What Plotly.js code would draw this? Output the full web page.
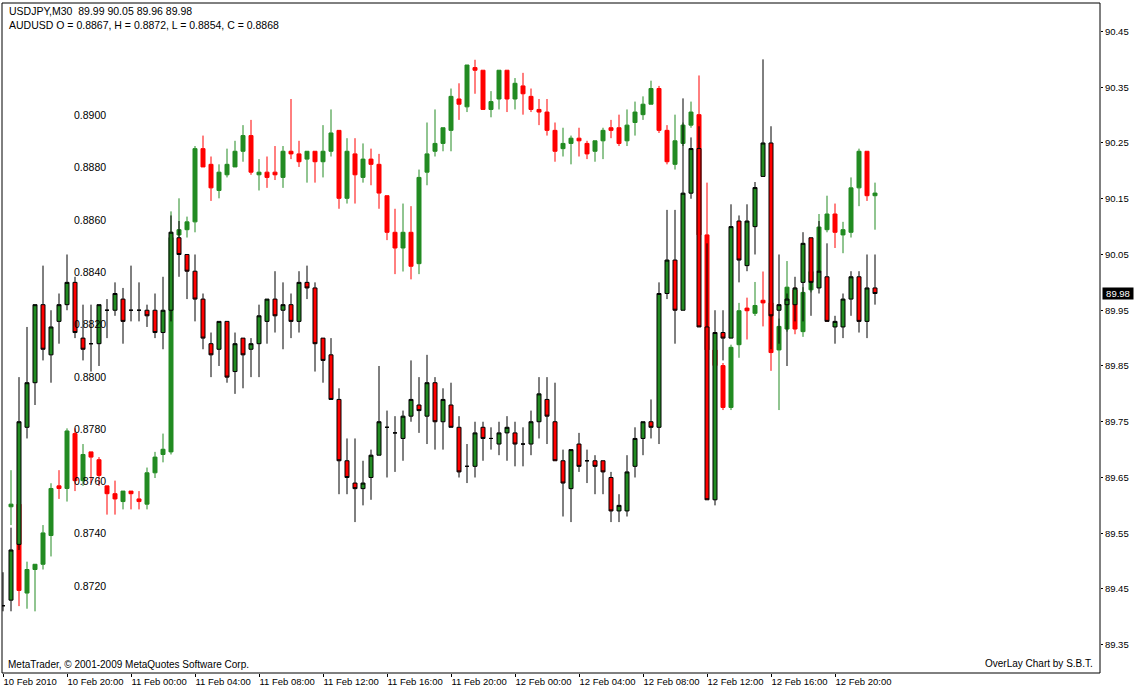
<!DOCTYPE html>
<html>
<head>
<meta charset="utf-8">
<script src="https://cdn.plot.ly/plotly-3.0.1.min.js"></script>
<style>
  html, body { margin: 0; padding: 0; background: #ffffff; }
  #chart { width: 1138px; height: 690px; }
</style>
</head>
<body>
<div id="chart"></div>
<script>
// ---- Data (30-minute bars, 10 Feb 2010 16:00 .. 12 Feb 2010 22:30) ----
var jpyOpen  = [89.42,89.43,89.53,89.74,89.82,89.96,89.87,89.93,89.96,90.00,89.90,89.89,89.89,89.95,89.95,89.97,89.95,89.95,89.95,89.95,
                89.91,89.95,90.08,90.05,90.02,89.97,89.89,89.88,89.93,89.84,89.90,89.88,89.89,89.93,89.97,89.95,89.96,89.93,90.00,89.99,
                89.90,89.87,89.79,89.68,89.64,89.63,89.65,89.69,89.74,89.73,89.72,89.76,89.78,89.76,89.82,89.75,89.78,89.74,89.67,89.67,
                89.74,89.72,89.71,89.73,89.73,89.71,89.71,89.75,89.79,89.75,89.68,89.63,89.71,89.68,89.68,89.68,89.65,89.59,89.59,89.67,
                89.72,89.75,89.74,89.98,90.04,89.95,90.16,90.24,89.92,89.61,89.91,89.90,90.11,90.03,90.10,90.19,90.25,89.95,89.96,89.96,
                90.00,90.08,89.99,90.01,89.92,89.92,89.97,90.01,89.93,89.99];
var jpyHigh  = [89.48,89.56,89.83,89.92,89.96,90.03,89.95,89.98,90.05,90.01,89.96,89.96,89.96,89.97,90.00,89.99,90.03,90.00,89.96,89.98,
                90.01,90.12,90.11,90.05,90.05,89.98,89.91,89.93,89.93,89.91,89.90,89.90,89.96,89.97,90.02,90.00,89.98,90.02,90.03,90.00,
                89.90,89.90,89.81,89.72,89.72,89.68,89.70,89.85,89.77,89.76,89.77,89.86,89.83,89.87,89.83,89.81,89.82,89.76,89.71,89.75,
                89.75,89.74,89.75,89.76,89.75,89.74,89.77,89.83,89.83,89.82,89.70,89.70,89.73,89.70,89.69,89.68,89.66,89.62,89.69,89.74,
                89.75,89.79,90.00,90.13,90.13,90.33,90.26,90.28,90.07,89.95,89.95,90.14,90.12,90.14,90.18,90.40,90.28,90.05,89.98,90.01,
                90.09,90.08,90.11,90.07,89.94,89.98,90.02,90.02,90.05,90.05];
var jpyLow   = [89.41,89.41,89.52,89.72,89.78,89.86,89.82,89.89,89.95,89.90,89.86,89.84,89.85,89.90,89.94,89.89,89.93,89.93,89.92,89.90,
                89.88,89.93,90.01,89.97,89.93,89.88,89.83,89.85,89.82,89.80,89.81,89.83,89.83,89.89,89.91,89.88,89.90,89.91,89.97,89.84,
                89.82,89.79,89.62,89.62,89.57,89.60,89.61,89.69,89.65,89.66,89.68,89.75,89.73,89.71,89.70,89.70,89.74,89.65,89.64,89.65,
                89.68,89.70,89.69,89.68,89.67,89.67,89.69,89.72,89.71,89.68,89.58,89.57,89.66,89.64,89.62,89.62,89.57,89.57,89.58,89.65,
                89.69,89.72,89.71,89.97,89.89,89.95,90.15,89.92,89.61,89.60,89.86,89.90,90.00,90.02,90.05,90.19,89.88,89.89,89.85,89.93,
                89.93,89.94,89.98,89.93,89.89,89.90,89.94,89.91,89.90,89.96];
var jpyClose = [89.42,89.52,89.75,89.82,89.96,89.88,89.92,89.96,90.00,89.91,89.88,89.89,89.96,89.95,89.98,89.93,89.95,89.95,89.94,89.91,
                89.95,90.09,90.05,90.02,89.97,89.90,89.87,89.93,89.83,89.89,89.87,89.89,89.94,89.97,89.94,89.96,89.93,90.00,89.99,89.89,
                89.86,89.79,89.68,89.65,89.63,89.64,89.69,89.75,89.74,89.73,89.76,89.79,89.77,89.82,89.75,89.79,89.74,89.66,89.67,89.73,
                89.72,89.72,89.73,89.74,89.71,89.71,89.75,89.80,89.76,89.68,89.64,89.70,89.67,89.68,89.67,89.66,89.59,89.60,89.66,89.72,
                89.75,89.74,89.98,90.04,89.95,90.16,90.24,89.92,89.61,89.91,89.90,90.10,90.04,90.11,90.17,90.25,89.94,89.96,89.97,89.99,
                90.07,90.00,90.02,89.93,89.93,89.97,90.01,89.93,89.99,89.98];

var audOpen  = [null,0.8748,0.8749,0.8715,0.8724,0.8726,0.8737,0.8756,0.8755,0.8776,0.8758,0.8769,0.8766,0.8756,0.8753,0.8750,0.8754,0.8751,0.8749,0.8761,
                0.8768,0.8769,0.8852,0.8854,0.8857,0.8885,0.8879,0.8869,0.8875,0.8878,0.8884,0.8890,0.8875,0.8876,0.8876,0.8874,0.8884,0.8883,0.8881,0.8884,
                0.8880,0.8884,0.8892,0.8866,0.8883,0.8874,0.8881,0.8879,0.8867,0.8853,0.8847,0.8853,0.8841,0.8876,0.8884,0.8887,0.8892,0.8904,0.8901,0.8916,
                0.8915,0.8900,0.8904,0.8915,0.8904,0.8909,0.8905,0.8900,0.8899,0.8892,0.8885,0.8887,0.8889,0.8887,0.8884,0.8888,0.8893,0.8893,0.8888,0.8895,
                0.8898,0.8902,0.8908,0.8892,0.8879,0.8887,0.8894,0.8898,0.8852,0.8808,0.8802,0.8786,0.8810,0.8824,0.8822,0.8827,0.8826,0.8808,0.8816,0.8831,
                0.8815,0.8831,0.8838,0.8854,0.8860,0.8852,0.8853,0.8870,0.8884,0.8867];
var audHigh  = [null,0.8762,0.8751,0.8727,0.8726,0.8741,0.8757,0.8762,0.8778,0.8778,0.8772,0.8769,0.8767,0.8756,0.8758,0.8754,0.8754,0.8754,0.8763,0.8769,
                0.8776,0.8861,0.8866,0.8859,0.8886,0.8890,0.8882,0.8879,0.8885,0.8888,0.8894,0.8896,0.8881,0.8882,0.8886,0.8886,0.8904,0.8888,0.8884,0.8884,
                0.8894,0.8900,0.8892,0.8889,0.8889,0.8887,0.8885,0.8883,0.8867,0.8862,0.8864,0.8863,0.8877,0.8895,0.8900,0.8893,0.8908,0.8910,0.8917,0.8919,
                0.8915,0.8907,0.8915,0.8915,0.8912,0.8914,0.8908,0.8904,0.8904,0.8895,0.8893,0.8890,0.8893,0.8888,0.8888,0.8893,0.8896,0.8898,0.8900,0.8903,
                0.8905,0.8911,0.8909,0.8894,0.8898,0.8895,0.8903,0.8913,0.8872,0.8812,0.8803,0.8810,0.8826,0.8828,0.8834,0.8838,0.8827,0.8820,0.8842,0.8832,
                0.8832,0.8840,0.8860,0.8867,0.8864,0.8857,0.8874,0.8885,0.8884,0.8872];
var audLow   = [null,0.8741,0.8710,0.8709,0.8708,0.8724,0.8729,0.8751,0.8750,0.8754,0.8756,0.8757,0.8756,0.8745,0.8745,0.8747,0.8747,0.8747,0.8747,0.8759,
                0.8765,0.8768,0.8851,0.8851,0.8853,0.8878,0.8865,0.8866,0.8874,0.8878,0.8880,0.8875,0.8869,0.8870,0.8873,0.8870,0.8881,0.8878,0.8872,0.8872,
                0.8874,0.8882,0.8862,0.8864,0.8864,0.8872,0.8871,0.8862,0.8850,0.8837,0.8838,0.8835,0.8837,0.8871,0.8882,0.8884,0.8884,0.8896,0.8899,0.8906,
                0.8900,0.8897,0.8900,0.8899,0.8900,0.8898,0.8899,0.8894,0.8890,0.8880,0.8882,0.8879,0.8882,0.8881,0.8880,0.8881,0.8889,0.8886,0.8886,0.8890,
                0.8896,0.8902,0.8891,0.8879,0.8877,0.8886,0.8893,0.8850,0.8805,0.8798,0.8785,0.8785,0.8805,0.8812,0.8821,0.8817,0.8800,0.8785,0.8815,0.8814,
                0.8813,0.8830,0.8837,0.8853,0.8847,0.8845,0.8851,0.8863,0.8865,0.8854];
var audClose = [null,0.8749,0.8716,0.8724,0.8726,0.8738,0.8755,0.8755,0.8777,0.8758,0.8768,0.8767,0.8760,0.8753,0.8751,0.8754,0.8753,0.8750,0.8761,0.8767,
                0.8770,0.8851,0.8854,0.8857,0.8885,0.8878,0.8870,0.8876,0.8879,0.8884,0.8890,0.8876,0.8876,0.8874,0.8875,0.8884,0.8883,0.8880,0.8884,0.8880,
                0.8884,0.8891,0.8866,0.8884,0.8875,0.8881,0.8879,0.8868,0.8853,0.8847,0.8853,0.8840,0.8874,0.8883,0.8887,0.8893,0.8905,0.8902,0.8917,0.8915,
                0.8900,0.8903,0.8915,0.8904,0.8910,0.8906,0.8900,0.8899,0.8892,0.8884,0.8887,0.8889,0.8888,0.8883,0.8888,0.8892,0.8892,0.8887,0.8894,0.8899,
                0.8902,0.8908,0.8892,0.8880,0.8888,0.8894,0.8899,0.8852,0.8808,0.8802,0.8786,0.8809,0.8823,0.8823,0.8825,0.8826,0.8807,0.8817,0.8832,0.8816,
                0.8830,0.8838,0.8855,0.8860,0.8853,0.8854,0.8870,0.8884,0.8867,0.8868];

var timeTickBars   = [0, 8, 16, 24, 32, 40, 48, 56, 64, 72, 80, 88, 96, 104];
var timeTickLabels = ['10 Feb 2010','10 Feb 20:00','11 Feb 00:00','11 Feb 04:00','11 Feb 08:00','11 Feb 12:00',
                      '11 Feb 16:00','11 Feb 20:00','12 Feb 00:00','12 Feb 04:00','12 Feb 08:00','12 Feb 12:00',
                      '12 Feb 16:00','12 Feb 20:00'];
var audTickVals   = [0.8720, 0.8740, 0.8760, 0.8780, 0.8800, 0.8820, 0.8840, 0.8860, 0.8880, 0.8900];
var jpyTickVals   = [89.35, 89.45, 89.55, 89.65, 89.75, 89.85, 89.95, 90.05, 90.15, 90.25, 90.35, 90.45];

var headerMain = 'USDJPY,M30\u00a0\u00a089.99 90.05 89.96 89.98';
var headerAud  = 'AUDUSD O = 0.8867, H = 0.8872, L = 0.8854, C = 0.8868';

// ---- Build ----
var bars = jpyClose.map(function (_, i) { return i; });
var GREEN = '#228B22', RED = '#FF0000';
var FONT = "Tahoma, 'Liberation Sans', Arial, sans-serif";

var audTrace = {
  type: 'candlestick', x: bars, open: audOpen, high: audHigh, low: audLow, close: audClose,
  xaxis: 'x', yaxis: 'y', name: 'AUDUSD', hoverinfo: 'skip', whiskerwidth: 0,
  increasing: { line: { color: GREEN, width: 1 }, fillcolor: GREEN },
  decreasing: { line: { color: RED, width: 1 }, fillcolor: RED }
};
var jpyTrace = {
  type: 'candlestick', x: bars, open: jpyOpen, high: jpyHigh, low: jpyLow, close: jpyClose,
  xaxis: 'x', yaxis: 'y2', name: 'USDJPY', hoverinfo: 'skip', whiskerwidth: 0,
  increasing: { line: { color: '#000000', width: 1 }, fillcolor: GREEN },
  decreasing: { line: { color: '#000000', width: 1 }, fillcolor: RED }
};

var layout = {
  width: 1138, height: 690,
  margin: { l: 2, r: 38, t: 3, b: 17, pad: 0 },
  paper_bgcolor: '#ffffff', plot_bgcolor: '#ffffff',
  showlegend: false,
  boxgap: 0.5, boxgroupgap: 0,
  font: { family: FONT, size: 10, color: '#000000' },
  xaxis: {
    range: [-0.125, 137.125], showgrid: false, zeroline: false, showline: false,
    rangeslider: { visible: false },
    tickmode: 'array', tickvals: timeTickBars, ticktext: timeTickLabels,
    ticks: 'outside', ticklen: 3, tickcolor: '#000000', tickwidth: 1,
    tickangle: 0, ticklabelposition: 'outside right',
    tickfont: { family: FONT, size: 9.5, color: '#000000' }
  },
  yaxis: {
    range: [0.868441, 0.894072], showgrid: false, zeroline: false, showline: false,
    anchor: 'free', position: 0.0948, side: 'left',
    tickmode: 'array', tickvals: audTickVals,
    ticktext: audTickVals.map(function (v) { return v.toFixed(4); }),
    ticks: '', ticklabelshift: 6,
    tickfont: { family: FONT, size: 10.5, color: '#000000' }
  },
  yaxis2: {
    range: [89.2993, 90.5011], overlaying: 'y', side: 'right', anchor: 'x',
    showgrid: false, zeroline: false, showline: false,
    tickmode: 'array', tickvals: jpyTickVals,
    ticktext: jpyTickVals.map(function (v) { return v.toFixed(2); }),
    ticks: 'outside', ticklen: 2, tickcolor: '#000000', tickwidth: 1,
    tickfont: { family: FONT, size: 9.5, color: '#000000' }
  },
  shapes: [
    { type: 'rect', xref: 'paper', yref: 'paper', x0: 0, x1: 1, y0: 0, y1: 1,
      line: { color: '#000000', width: 1 }, fillcolor: 'rgba(0,0,0,0)', layer: 'above' }
  ],
  annotations: [
    { text: headerMain, xref: 'paper', yref: 'paper', x: 0.0046, y: 0.988,
      xanchor: 'left', yanchor: 'middle', showarrow: false,
      font: { family: FONT, size: 10.5, color: '#000000' } },
    { text: headerAud, xref: 'paper', yref: 'paper', x: 0.0046, y: 0.967,
      xanchor: 'left', yanchor: 'middle', showarrow: false,
      font: { family: FONT, size: 10.5, color: '#000000' } },
    { text: 'MetaTrader, \u00a9 2001-2009 MetaQuotes Software Corp.', xref: 'paper', yref: 'paper',
      x: 0.0037, y: 0.012, xanchor: 'left', yanchor: 'middle', showarrow: false,
      font: { family: FONT, size: 10, color: '#000000' } },
    { text: 'OverLay Chart by S.B.T.', xref: 'paper', yref: 'paper',
      x: 0.9955, y: 0.0145, xanchor: 'right', yanchor: 'middle', showarrow: false,
      font: { family: FONT, size: 10, color: '#000000' } },
    { text: jpyClose[jpyClose.length - 1].toFixed(2), xref: 'paper', yref: 'y2',
      x: 1.0018, y: jpyClose[jpyClose.length - 1], xanchor: 'left', yanchor: 'middle',
      showarrow: false, bgcolor: '#000000', borderpad: 0, width: 30, height: 11, align: 'center',
      font: { family: FONT, size: 9.5, color: '#ffffff' } }
  ]
};

Plotly.newPlot('chart', [audTrace, jpyTrace], layout, { staticPlot: true, displayModeBar: false });
</script>
</body>
</html>
